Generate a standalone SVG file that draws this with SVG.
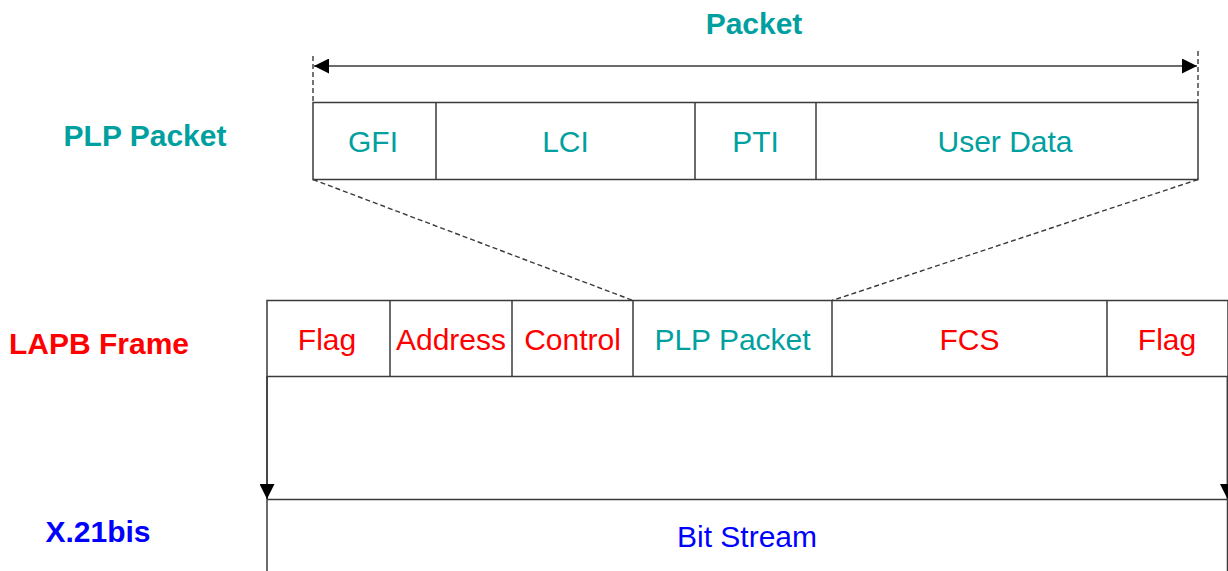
<svg xmlns="http://www.w3.org/2000/svg" width="1228" height="571" viewBox="0 0 1228 571">
  <style>
    .box { fill: #ffffff; stroke: #3a3a3a; stroke-width: 1.5; }
    .div { stroke: #3a3a3a; stroke-width: 1.5; }
    .line { stroke: #3a3a3a; stroke-width: 1.5; fill: none; }
    .dash { stroke: #3a3a3a; stroke-width: 1.4; stroke-dasharray: 5 3; fill: none; }
    .cell { font-family: "Liberation Sans", Arial, sans-serif; font-size: 30px; text-anchor: middle; }
    .lbl { font-family: "Liberation Sans", Arial, sans-serif; font-size: 30px; font-weight: bold; text-anchor: middle; }
    .teal { fill: #00A0A0; }
    .red { fill: #FF0000; }
    .blue { fill: #0000FF; }
  </style>
  <defs>
    <marker id="arrow" viewBox="0 0 15 15" refX="15" refY="7.5" markerWidth="15" markerHeight="15" markerUnits="userSpaceOnUse" orient="auto-start-reverse">
      <path d="M0,0 L15,7.5 L0,15 Z" fill="#000000"/>
    </marker>
  </defs>

  <rect width="1228" height="571" fill="#ffffff"/>

  <!-- row labels -->
  <g id="label-packet"><text class="lbl teal" x="754" y="34">Packet</text></g>
  <g id="label-plp"><text class="lbl teal" x="145" y="146">PLP Packet</text></g>
  <g id="label-lapb"><text class="lbl red" x="99" y="354">LAPB Frame</text></g>
  <g id="label-x21"><text class="lbl blue" x="98" y="542">X.21bis</text></g>

  <!-- PLP packet fields -->
  <g id="plp-packet">
    <rect class="box" x="313" y="102.5" width="885" height="77"/>
    <line class="div" x1="436" y1="102.5" x2="436" y2="179.5"/>
    <line class="div" x1="695" y1="102.5" x2="695" y2="179.5"/>
    <line class="div" x1="816" y1="102.5" x2="816" y2="179.5"/>
    <text class="cell teal" x="373" y="152">GFI</text>
    <text class="cell teal" x="565.5" y="152">LCI</text>
    <text class="cell teal" x="755.5" y="152">PTI</text>
    <text class="cell teal" x="1005" y="152">User Data</text>
  </g>

  <!-- LAPB frame fields -->
  <g id="lapb-frame">
    <rect class="box" x="267" y="300.5" width="961" height="76"/>
    <line class="div" x1="390" y1="300.5" x2="390" y2="376.5"/>
    <line class="div" x1="512" y1="300.5" x2="512" y2="376.5"/>
    <line class="div" x1="633" y1="300.5" x2="633" y2="376.5"/>
    <line class="div" x1="832" y1="300.5" x2="832" y2="376.5"/>
    <line class="div" x1="1107" y1="300.5" x2="1107" y2="376.5"/>
    <text class="cell red" x="327" y="350">Flag</text>
    <text class="cell red" x="451" y="350">Address</text>
    <text class="cell red" x="572.5" y="350">Control</text>
    <text class="cell teal" x="732.5" y="350">PLP Packet</text>
    <text class="cell red" x="969.5" y="350">FCS</text>
    <text class="cell red" x="1167" y="350">Flag</text>
  </g>

  <!-- bit stream -->
  <g id="bit-stream">
    <text class="cell blue" x="747" y="547">Bit Stream</text>
  </g>

  <!-- connectors -->
  <g id="connectors">
    <!-- packet span -->
    <line class="dash" x1="313" y1="56" x2="313" y2="102"/>
    <line class="dash" x1="1198" y1="51" x2="1198" y2="102"/>
    <line class="line" x1="314" y1="66" x2="1197" y2="66" marker-start="url(#arrow)" marker-end="url(#arrow)"/>
    <!-- packet carried inside the frame -->
    <line class="dash" x1="313" y1="179.5" x2="633" y2="300.5"/>
    <line class="dash" x1="1198" y1="179.5" x2="832" y2="300.5"/>
    <!-- frame to bit stream -->
    <line class="line" x1="267" y1="376.5" x2="267" y2="571"/>
    <line class="line" x1="1227.5" y1="376.5" x2="1227.5" y2="571"/>
    <line class="line" x1="267" y1="376.5" x2="267" y2="499" marker-end="url(#arrow)"/>
    <line class="line" x1="1227.5" y1="376.5" x2="1227.5" y2="499" marker-end="url(#arrow)"/>
    <line class="line" x1="267" y1="499.5" x2="1228" y2="499.5"/>
  </g>
</svg>
